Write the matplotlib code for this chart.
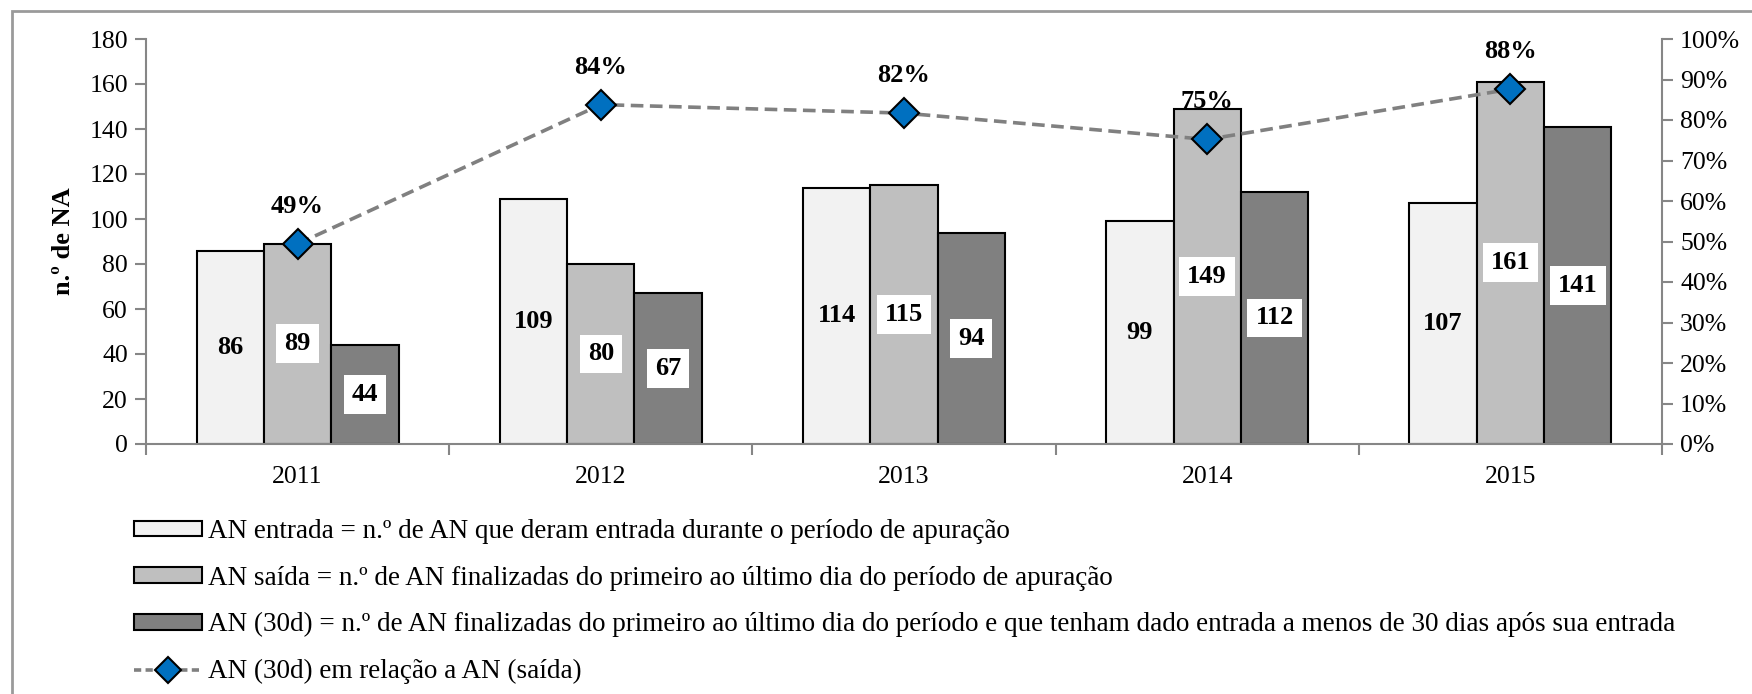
import matplotlib
matplotlib.use("Agg")
import matplotlib.pyplot as plt
import numpy as np
from matplotlib.patches import Patch, Rectangle
from matplotlib.lines import Line2D
from matplotlib.ticker import FixedLocator, PercentFormatter

plt.rcParams['font.family'] = ['Liberation Serif', 'DejaVu Serif']

# data
years = ['2011', '2012', '2013', '2014', '2015']
an_entrada = [86, 109, 114, 99, 107]
an_saida = [89, 80, 115, 149, 161]
an_30d = [44, 67, 94, 112, 141]
ratio_30d = [0.494, 0.838, 0.817, 0.752, 0.876]
ratio_labels = ['49%', '84%', '82%', '75%', '88%']

legend_labels = [
    'AN entrada = n.º de AN que deram entrada durante o período de apuração',
    'AN saída = n.º de AN finalizadas do primeiro ao último dia do período de apuração',
    'AN (30d) = n.º de AN finalizadas do primeiro ao último dia do período e que tenham dado entrada a menos de 30 dias após sua entrada',
    'AN (30d) em relação a AN (saída)',
]

c_light, c_mid, c_dark = '#F2F2F2', '#BFBFBF', '#808080'
axis_gray = '#868686'

fig = plt.figure(figsize=(17.52, 6.94), dpi=100)
ax = fig.add_axes([146/1752, 1 - 444/694, (1662 - 146)/1752, (444 - 39)/694])

x = np.arange(len(years))
w = 0.222
ax.bar(x - w, an_entrada, w, color=c_light, edgecolor='black', linewidth=1.5, zorder=2)
ax.bar(x, an_saida, w, color=c_mid, edgecolor='black', linewidth=1.5, zorder=2)
ax.bar(x + w, an_30d, w, color=c_dark, edgecolor='black', linewidth=1.5, zorder=2)

# value labels in the middle of the bars
lab_size = 19
for xi, v in zip(x, an_entrada):
    ax.text(xi - w, v / 2, str(v), ha='center', va='center', fontsize=lab_size, fontweight='bold', zorder=4)
for xi, v in zip(x, an_saida):
    ax.text(xi, v / 2, str(v), ha='center', va='center', fontsize=lab_size, fontweight='bold', zorder=4,
            bbox=dict(boxstyle='square,pad=0.3', fc='white', ec='none'))
for xi, v in zip(x, an_30d):
    ax.text(xi + w, v / 2, str(v), ha='center', va='center', fontsize=lab_size, fontweight='bold', zorder=4,
            bbox=dict(boxstyle='square,pad=0.3', fc='white', ec='none'))

ax.set_xlim(-0.5, len(years) - 0.5)
ax.set_ylim(0, 180)
ax.set_yticks(np.arange(0, 181, 20))
ax.set_xticks(x)
ax.set_xticklabels(years)
ax.xaxis.set_minor_locator(FixedLocator(np.arange(-0.5, len(years), 1.0)))
ax.tick_params(axis='x', which='major', length=0, labelsize=18.5, pad=16)
ax.tick_params(axis='x', which='minor', length=8, color=axis_gray, width=1.5, direction='out')
ax.tick_params(axis='y', length=8, color=axis_gray, width=1.5, labelsize=18.5, pad=5)
for s in ['top', 'right']:
    ax.spines[s].set_visible(False)
for s in ['left', 'bottom']:
    ax.spines[s].set_color(axis_gray)
    ax.spines[s].set_linewidth(1.5)
ax.set_ylabel('n.º de NA', fontsize=19, fontweight='bold')
ax.yaxis.set_label_coords(-0.047, 0.5)

# secondary axis with the ratio line
ax2 = ax.twinx()
ax2.plot(x, ratio_30d, color=c_dark, linewidth=2.6, linestyle=(0, (3.5, 1.8)),
         marker='D', markersize=15, markerfacecolor='#0070C0', markeredgecolor='black',
         markeredgewidth=1.5, zorder=3)
for xi, v, lab in zip(x, ratio_30d, ratio_labels):
    ax2.annotate(lab, (xi, v), xytext=(0, 27), textcoords='offset points',
                 ha='center', va='center', fontsize=19, fontweight='bold')
ax2.set_ylim(0, 1)
ax2.set_yticks(np.arange(0, 1.01, 0.1))
ax2.yaxis.set_major_formatter(PercentFormatter(1.0, decimals=0))
ax2.tick_params(axis='y', length=8, color=axis_gray, width=1.5, labelsize=18.5, pad=5)
for s in ['top', 'left', 'bottom']:
    ax2.spines[s].set_visible(False)
ax2.spines['right'].set_color(axis_gray)
ax2.spines['right'].set_linewidth(1.5)

# legend below the plot
handles = [
    Patch(facecolor=c_light, edgecolor='black', linewidth=1.5),
    Patch(facecolor=c_mid, edgecolor='black', linewidth=1.5),
    Patch(facecolor=c_dark, edgecolor='black', linewidth=1.5),
    Line2D([], [], color=c_dark, linewidth=2.6, linestyle=(0, (2.0, 1.2)), marker='D',
           markersize=13, markerfacecolor='#0070C0', markeredgecolor='black', markeredgewidth=1.5),
]
fig.legend(handles, legend_labels, loc='upper left', bbox_to_anchor=(134/1752, 1 - 519/694),
           frameon=False, fontsize=19.5, handlelength=2.5, handleheight=0.52,
           handletextpad=0.22, labelspacing=0.8, borderpad=0, borderaxespad=0)

# outer chart frame (right/bottom edges fall outside the image)
fig.patches.append(Rectangle((12/1752, -0.1), 1.2, 1.1 - 11/694, transform=fig.transFigure,
                             fill=False, edgecolor='#9A9A9A', linewidth=2, zorder=0))

fig.savefig('out.png', dpi=100)
